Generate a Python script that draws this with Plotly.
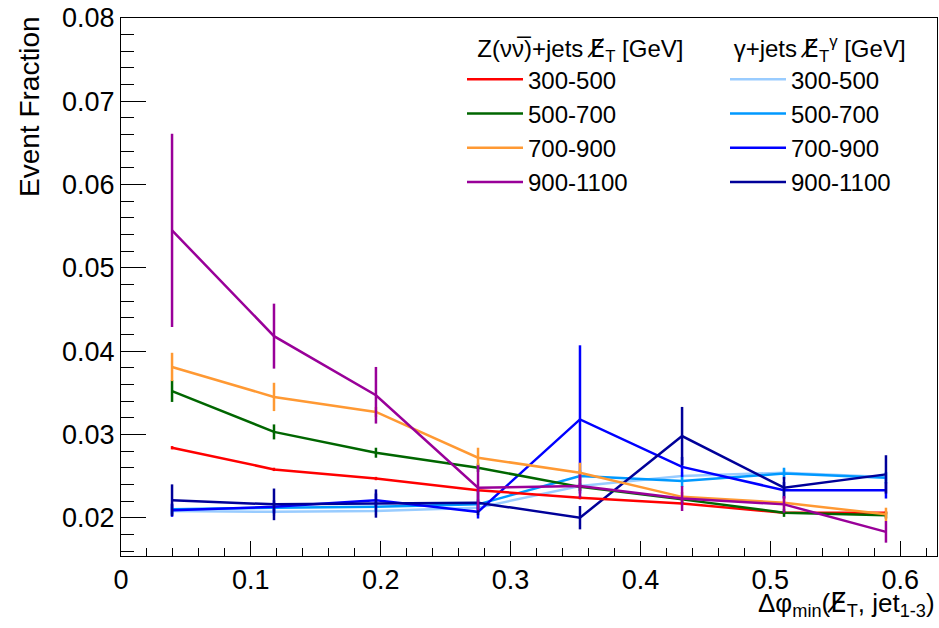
import plotly.graph_objects as go

# ---- data ----
dphi = [0.0393, 0.1178, 0.1963, 0.2749, 0.3534, 0.4320, 0.5105, 0.5890]

z_labels = ["300-500", "500-700", "700-900", "900-1100"]
z_300 = [0.0284, 0.0258, 0.0247, 0.0233, 0.0224, 0.0217, 0.0206, 0.0206]
z_300_err = [0.0002, 0.0002, 0.0002, 0.0002, 0.0002, 0.0002, 0.0002, 0.0002]
z_500 = [0.0352, 0.0303, 0.0278, 0.0260, 0.0237, 0.0222, 0.0206, 0.0203]
z_500_err = [0.0013, 0.0009, 0.0006, 0.0005, 0.0005, 0.0004, 0.0005, 0.0004]
z_700 = [0.0381, 0.0345, 0.0327, 0.0272, 0.0254, 0.0225, 0.0218, 0.0204]
z_700_err = [0.0017, 0.0017, 0.0006, 0.0012, 0.0012, 0.0006, 0.0006, 0.0008]
z_900 = [0.0545, 0.0418, 0.0347, 0.0236, 0.0238, 0.0223, 0.0216, 0.0183]
z_900_err = [0.0116, 0.0039, 0.0034, 0.0027, 0.0014, 0.0015, 0.0010, 0.0013]

g_labels = ["300-500", "500-700", "700-900", "900-1100"]
g_300 = [0.0208, 0.0207, 0.0208, 0.0212, 0.0238, 0.0250, 0.0254, 0.0249]
g_300_err = [0.0005, 0.0005, 0.0005, 0.0005, 0.0005, 0.0005, 0.0005, 0.0005]
g_500 = [0.0210, 0.0212, 0.0213, 0.0216, 0.0250, 0.0244, 0.0253, 0.0248]
g_500_err = [0.0006, 0.0006, 0.0006, 0.0006, 0.0007, 0.0007, 0.0007, 0.0007]
g_700 = [0.0209, 0.0213, 0.0221, 0.0207, 0.0318, 0.0261, 0.0233, 0.0233]
g_700_err = [0.0008, 0.0008, 0.0008, 0.0008, 0.0089, 0.0012, 0.0010, 0.0010]
g_900 = [0.0221, 0.0216, 0.0217, 0.0218, 0.0200, 0.0298, 0.0236, 0.0252]
g_900_err = [0.0019, 0.0019, 0.0017, 0.0015, 0.0014, 0.0035, 0.0013, 0.0023]

z_series = [z_300, z_500, z_700, z_900]
z_errs = [z_300_err, z_500_err, z_700_err, z_900_err]
g_series = [g_300, g_500, g_700, g_900]
g_errs = [g_300_err, g_500_err, g_700_err, g_900_err]

z_colors = ["#ff0000", "#006600", "#ff9933", "#990099"]
g_colors = ["#99ccff", "#0099ff", "#0000ff", "#000099"]

FONT = "Liberation Sans, Arial, Helvetica, sans-serif"
MET = '<span style="font-family:DejaVu Sans">E\u0338</span>'

fig = go.Figure()

for lab, ys, es, col in zip(g_labels, g_series, g_errs, g_colors):
    fig.add_trace(go.Scatter(
        x=dphi, y=ys, mode="lines", name=lab, legend="legend2",
        line=dict(color=col, width=2.5),
        error_y=dict(type="data", array=es, visible=True, thickness=2.5, width=0, color=col),
    ))

for lab, ys, es, col in zip(z_labels, z_series, z_errs, z_colors):
    fig.add_trace(go.Scatter(
        x=dphi, y=ys, mode="lines", name=lab, legend="legend",
        line=dict(color=col, width=2.5),
        error_y=dict(type="data", array=es, visible=True, thickness=2.5, width=0, color=col),
    ))

W, H = 939, 628
ml, mr, mt, mb = 121, 2, 18, 72
pw, ph = W - ml - mr, H - mt - mb

def px_x(px):
    return (px - ml) / pw

def px_y(py):
    return (H - mb - py) / ph

fig.update_layout(
    width=W, height=H,
    margin=dict(l=ml, r=mr, t=mt, b=mb),
    paper_bgcolor="white", plot_bgcolor="white",
    font=dict(family=FONT, size=27, color="black"),
    showlegend=True,
    xaxis=dict(
        range=[0, 0.6283], dtick=0.1, tick0=0,
        ticks="inside", ticklen=15, tickwidth=1, tickcolor="black",
        minor=dict(dtick=0.02, tick0=0, ticks="inside", ticklen=8, tickcolor="black"),
        showline=True, mirror=True, linecolor="black", linewidth=1,
        showgrid=False, zeroline=False,
        tickfont=dict(size=27),
    ),
    yaxis=dict(
        range=[0.0154, 0.08], dtick=0.01, tick0=0,
        ticks="inside", ticklen=25, tickwidth=1, tickcolor="black",
        minor=dict(dtick=0.002, tick0=0, ticks="inside", ticklen=13, tickcolor="black"),
        showline=True, mirror=True, linecolor="black", linewidth=1,
        showgrid=False, zeroline=False,
        tickformat=".2f",
        tickfont=dict(size=27),
    ),
    legend=dict(
        x=px_x(462), y=px_y(26), xanchor="left", yanchor="top",
        bgcolor="rgba(0,0,0,0)", borderwidth=0,
        font=dict(size=24),
        title=dict(text="\u00a0\u00a0Z(νν̅)+jets " + MET + "<sub>T</sub> [GeV]", font=dict(size=24)),
        itemwidth=56, tracegroupgap=0,
    ),
    legend2=dict(
        x=px_x(725), y=px_y(26), xanchor="left", yanchor="top",
        bgcolor="rgba(0,0,0,0)", borderwidth=0,
        font=dict(size=24),
        title=dict(text="\u00a0γ+jets " + MET + "<sub>T</sub><sup>γ</sup> [GeV]", font=dict(size=24)),
        itemwidth=56, tracegroupgap=0,
    ),
    annotations=[
        dict(text="Event Fraction", textangle=-90, xref="paper", yref="paper",
             x=px_x(12), y=px_y(14), xanchor="left", yanchor="top",
             showarrow=False, font=dict(size=28)),
        dict(text="Δφ<sub>min</sub>(" + MET + "<sub>T</sub>, jet<sub>1-3</sub>)", xref="paper", yref="paper",
             x=px_x(937), y=px_y(586), xanchor="right", yanchor="top",
             showarrow=False, font=dict(size=26)),
    ],
)

fig.write_html("out.html")
